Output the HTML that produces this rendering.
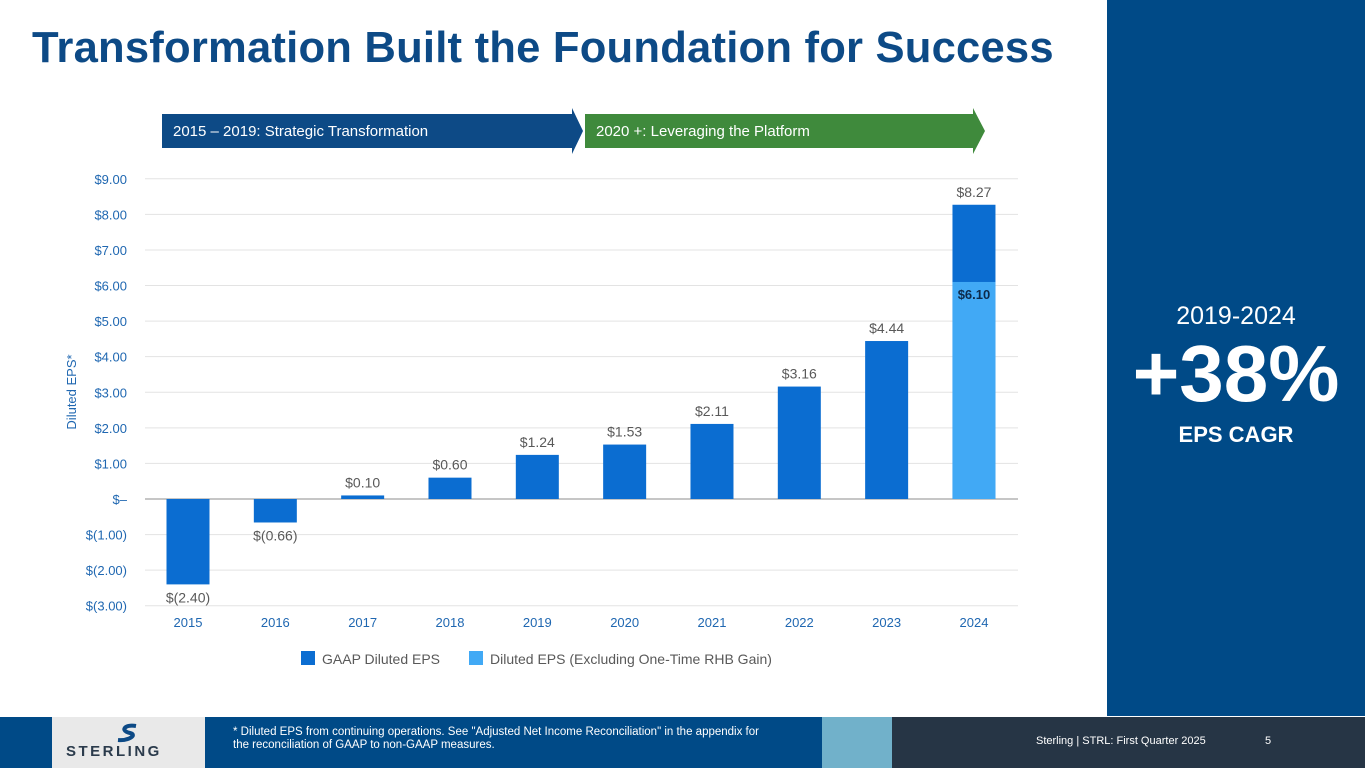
<!DOCTYPE html>
<html><head><meta charset="utf-8"><style>
body{margin:0;width:1365px;height:768px;overflow:hidden;background:#fff;font-family:"Liberation Sans",sans-serif;position:relative}
.abs{position:absolute}
</style></head><body>
<div class="abs" style="left:32px;top:24px;font-size:43.6px;font-weight:bold;color:#0d4a86;letter-spacing:0.2px">Transformation Built the Foundation for Success</div>
<div class="abs" style="left:1107px;top:0;width:258px;height:716px;background:#004a87"></div>
<div class="abs" style="left:1107px;top:302px;width:258px;text-align:center;color:#fff;font-size:25px">2019-2024</div>
<div class="abs" style="left:1107px;top:328px;width:258px;text-align:center;color:#fff;font-size:80px;font-weight:bold">+38%</div>
<div class="abs" style="left:1107px;top:422px;width:258px;text-align:center;color:#fff;font-size:22px;font-weight:bold">EPS CAGR</div>
<div class="abs" style="left:0;top:717px;width:1365px;height:51px;background:#004a87">
 <div class="abs" style="left:822px;top:0;width:70px;height:51px;background:#71b1ca"></div>
 <div class="abs" style="left:892px;top:0;width:473px;height:51px;background:#263545"></div>
 <div class="abs" style="left:52px;top:0;width:153px;height:51px;background:#e9e9e9">
  <svg class="abs" style="left:62px;top:6px" width="30" height="20"><path d="M22 3 C10 1 6 8 16 10 C24 12 14 18 4 17" stroke="#0d4a86" stroke-width="4" fill="none"/></svg>
  <div class="abs" style="left:14px;top:26px;font-size:15px;font-weight:bold;color:#2b3b4c;letter-spacing:2.5px">STERLING</div>
 </div>
 <div class="abs" style="left:233px;top:9px;color:#fff;font-size:11.5px;line-height:13px">* Diluted EPS from continuing operations. See "Adjusted Net Income Reconciliation" in the appendix for<br>the reconciliation of GAAP to non-GAAP measures.</div>
 <div class="abs" style="left:1036px;top:18px;color:#fff;font-size:11px">Sterling | STRL:  First Quarter 2025</div>
 <div class="abs" style="left:1265px;top:18px;color:#fff;font-size:11px">5</div>
</div>
<svg class="abs" style="left:0;top:0" width="1107" height="716" id="chart">
 <polygon points="162,114 572,114 572,108 583,131 572,154 572,148 162,148" fill="#0d4a86"/>
 <text x="173" y="136" fill="#fff" font-size="15">2015 – 2019: Strategic Transformation</text>
 <polygon points="585,114 973,114 973,108 985,131 973,154 973,148 585,148" fill="#3f8a3c"/>
 <text x="596" y="136" fill="#fff" font-size="15">2020 +: Leveraging the Platform</text>
 <text transform="translate(76,392) rotate(-90)" text-anchor="middle" fill="#1f67b1" font-size="13">Diluted EPS*</text>
 <g id="grid"></g><g id="bars"></g>
 <rect x="301" y="651" width="14" height="14" fill="#0b6dd1"/>
 <text x="322" y="664" fill="#595959" font-size="14">GAAP Diluted EPS</text>
 <rect x="469" y="651" width="14" height="14" fill="#41a9f5"/>
 <text x="490" y="664" fill="#595959" font-size="14">Diluted EPS (Excluding One-Time RHB Gain)</text>
</svg>
<script>
const years=["2015","2016","2017","2018","2019","2020","2021","2022","2023","2024"];
const gaap=[-2.40,-0.66,0.10,0.60,1.24,1.53,2.11,3.16,4.44,8.27];
const gaapLabels=["$(2.40)","$(0.66)","$0.10","$0.60","$1.24","$1.53","$2.11","$3.16","$4.44","$8.27"];
const adjusted=[null,null,null,null,null,null,null,null,null,6.10];
const adjustedLabels=["","","","","","","","","","$6.10"];
const ticks=[9,8,7,6,5,4,3,2,1,0,-1,-2,-3];
const tickLabels=["$9.00","$8.00","$7.00","$6.00","$5.00","$4.00","$3.00","$2.00","$1.00","$–","$(1.00)","$(2.00)","$(3.00)"];
const NS="http://www.w3.org/2000/svg";
const y=v=>499-v*35.58;
const x=i=>188+i*87.33;
const bw=43;
function mk(tag,attrs,parent,text){const e=document.createElementNS(NS,tag);for(const k in attrs)e.setAttribute(k,attrs[k]);if(text!=null)e.textContent=text;parent.appendChild(e);return e;}
const g=document.getElementById('grid'),b=document.getElementById('bars');
ticks.forEach((t,i)=>{
 const l=mk('line',{x1:145,x2:1018,y1:y(t),y2:y(t),stroke:t===0?'#8c8c8c':'#e3e3e3','stroke-width':1},g);
 
 
 const tx=mk('text',{x:127,y:y(t)+5,'text-anchor':'end',fill:'#1f67b1','font-size':13},g,tickLabels[i]);
 
 
});
years.forEach((yr,i)=>{
 const v=gaap[i];
 const r=mk('rect',{x:x(i)-bw/2,y:Math.min(y(v),y(0)),width:bw,height:Math.abs(y(v)-y(0)),fill:'#0b6dd1'},b);
 
 
 if(adjusted[i]!=null){
  const a=mk('rect',{x:x(i)-bw/2,y:y(adjusted[i]),width:bw,height:y(0)-y(adjusted[i]),fill:'#41a9f5'},b);
  
  
  const at=mk('text',{x:x(i),y:y(adjusted[i])+17,'text-anchor':'middle',fill:'#0d2a4a','font-size':13,'font-weight':'bold'},b,adjustedLabels[i]);
  
  
 }
 const ly=v>=0?y(v)-8:y(v)+18;
 const t=mk('text',{x:x(i),y:ly,'text-anchor':'middle',fill:'#595959','font-size':14},b,gaapLabels[i]);
 
 
 const xt=mk('text',{x:x(i),y:627,'text-anchor':'middle',fill:'#1f67b1','font-size':13},b,yr);
 
 
});
</script>
</body></html>
